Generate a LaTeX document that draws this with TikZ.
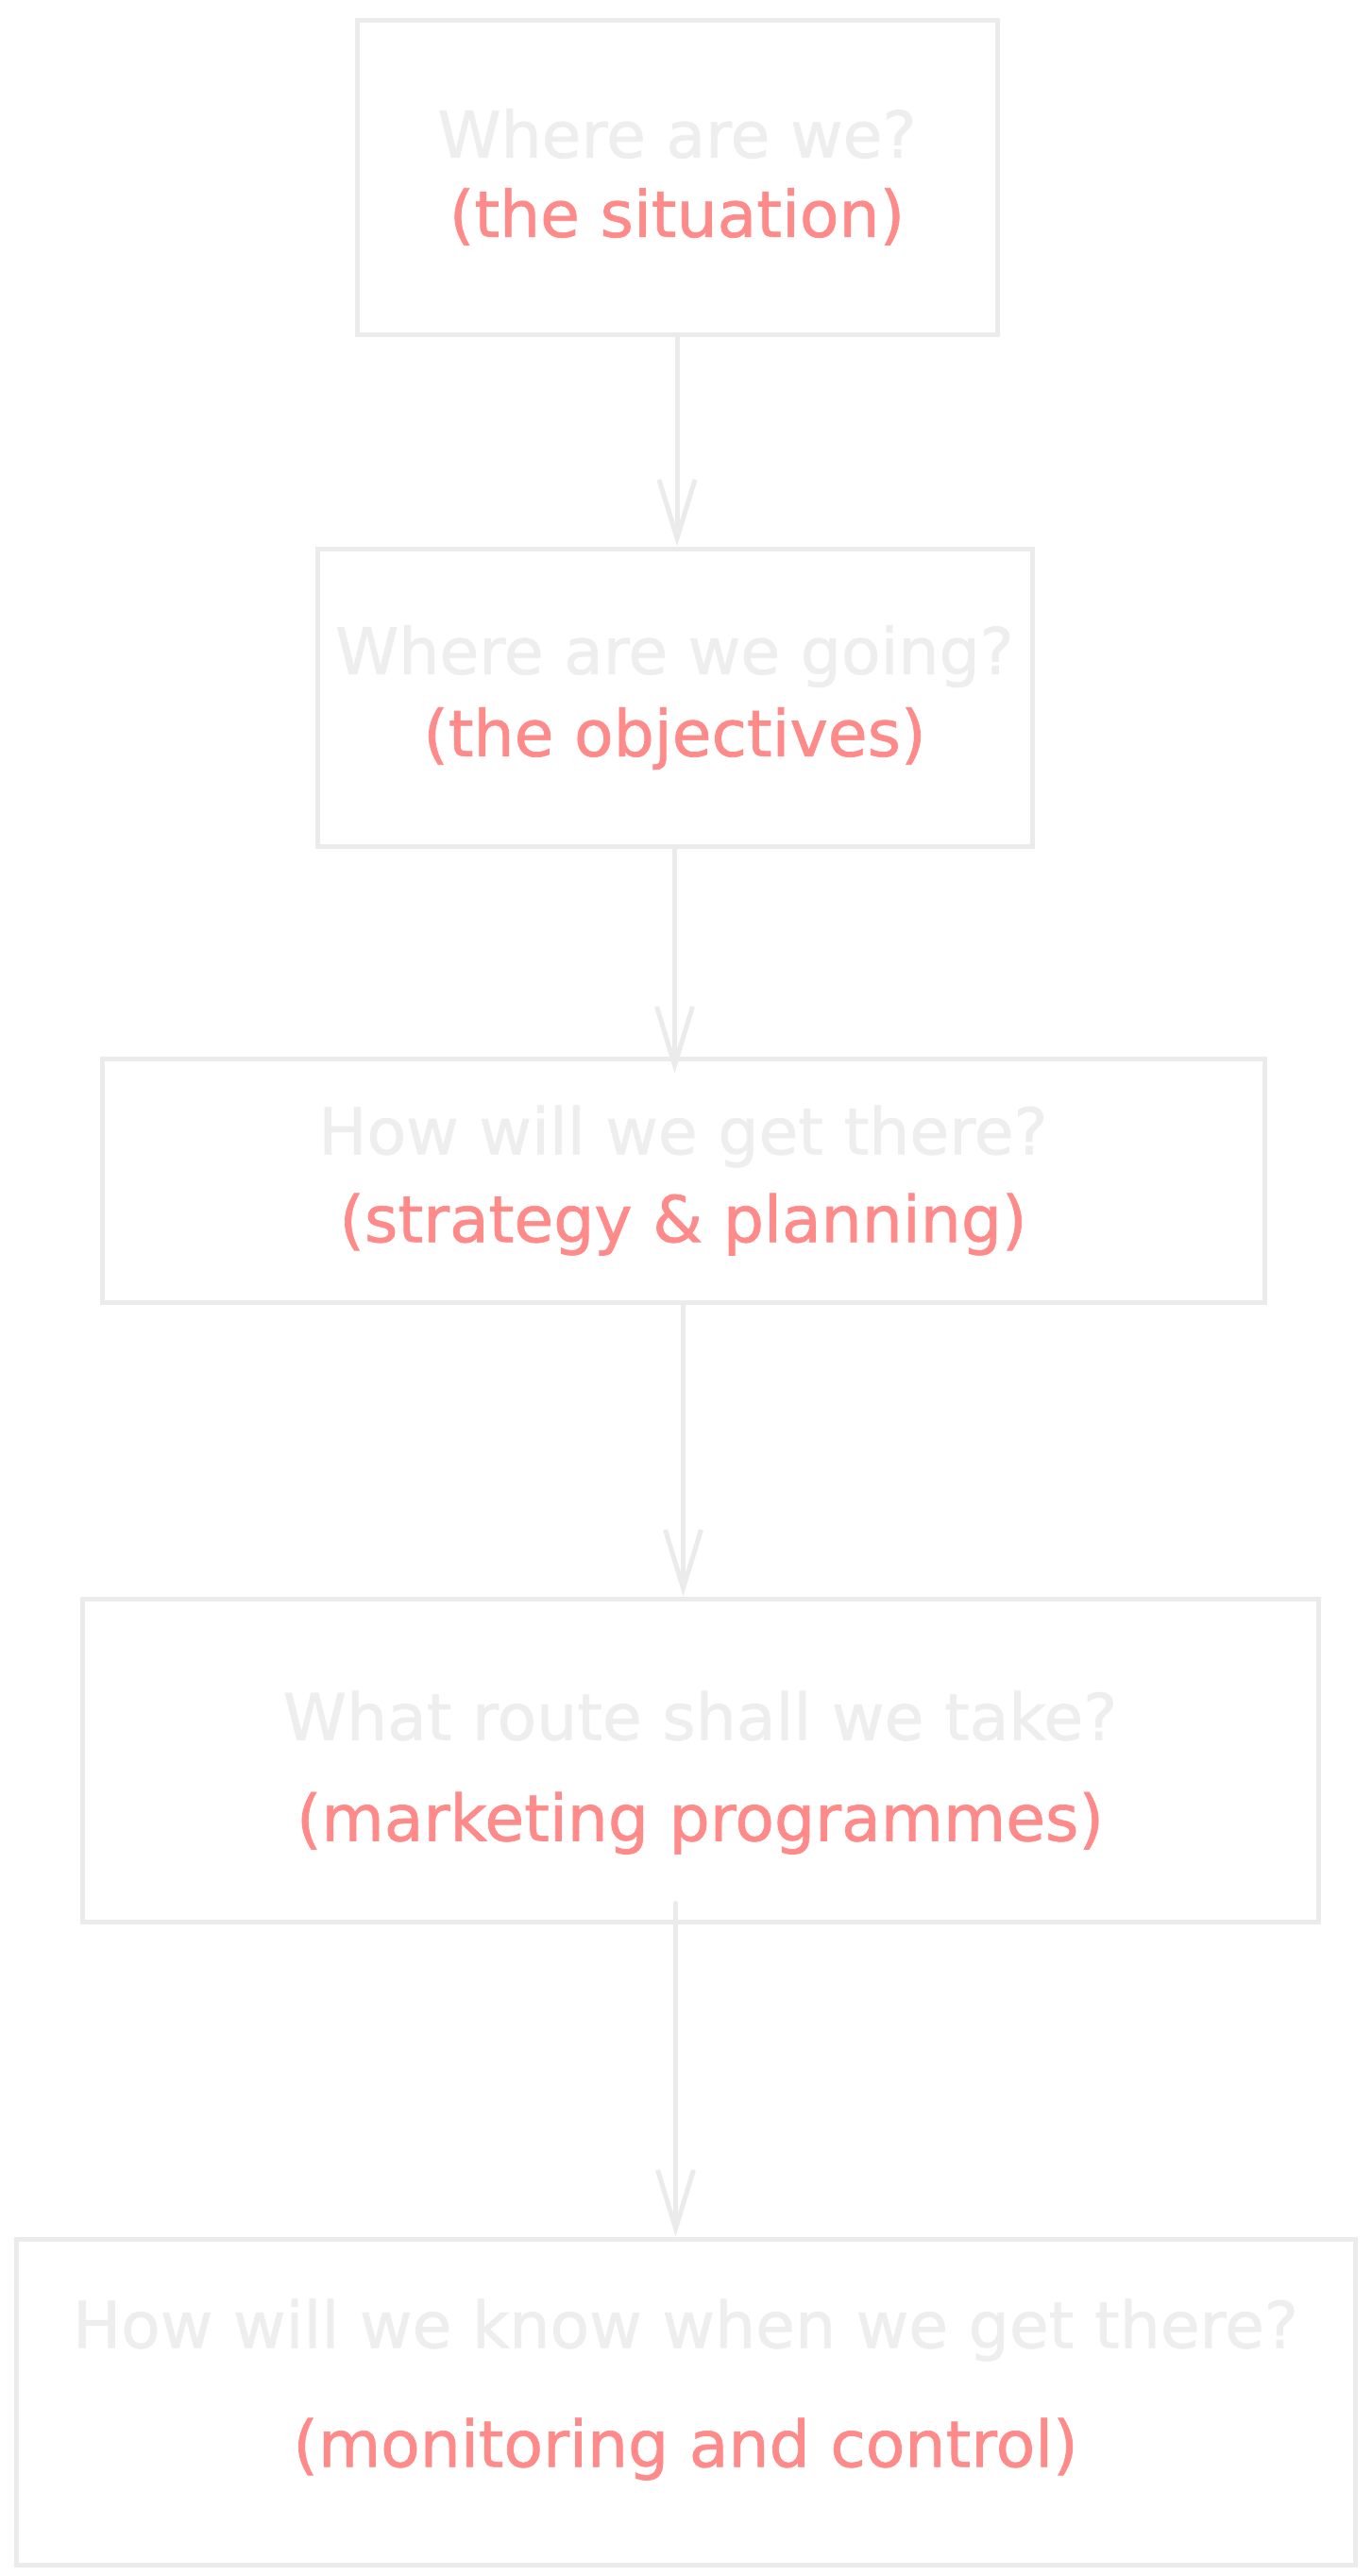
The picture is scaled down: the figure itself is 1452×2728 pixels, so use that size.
\documentclass[tikz,border=0pt]{standalone}
\usepackage{fontspec}
\setmainfont[FakeBold=1]{DejaVu Sans}
\usetikzlibrary{arrows.meta}
\definecolor{sketchgray}{HTML}{EBEBEB}
\definecolor{asktext}{HTML}{EEEEEE}
\definecolor{answertext}{HTML}{FF8A8A}
\tikzset{
        stage/.style={rectangle, draw=sketchgray, line width=5pt, align=center, inner sep=0pt, font=\fontsize{68}{82}\selectfont},
        flow/.style={draw=sketchgray, line width=5pt, line cap=round, -{Straight Barb[length=62pt, width=38pt]}}
          }
\newcommand{\asks}[1]{{\color{asktext}#1}}
\newcommand{\answers}[1]{{\color{answertext}#1}}

\begin{document}
\begin{tikzpicture}[x=1pt, y=-1pt]
        \fill[white] (0,0) rectangle (1452,2728);
        \useasboundingbox (0,0) rectangle (1452,2728);
        % the five planning questions
        \node[stage, minimum width=678pt, minimum height=333pt] (situation) at (717,187.5)
          {\asks{Where are we?}\\[2pt]\answers{(the situation)}};
        \node[stage, minimum width=757pt, minimum height=315pt] (objectives) at (714.5,738.5)
          {\asks{Where are we going?}\\[5pt]\answers{(the objectives)}};
        \node[stage, minimum width=1231pt, minimum height=258pt] (strategy) at (723.5,1250)
          {\asks{How will we get there?}\\[11pt]\answers{(strategy \& planning)}};
        \node[stage, minimum width=1309pt, minimum height=342pt] (programmes) at (741.5,1864)
          {\rule{0pt}{78pt}\asks{What route shall we take?}\\[25pt]\answers{(marketing programmes)}};
        \node[stage, minimum width=1418pt, minimum height=345pt] (control) at (726,2543.5)
          {\asks{How will we know when we get there?}\\[44pt]\answers{(monitoring and control)}\rule[-40pt]{0pt}{0pt}};
        % arrows between the stages
        \coordinate (gap) at ([yshift=-18pt]strategy.north);
        \coordinate (lower) at ([yshift=22pt, xshift=-26pt]programmes.south);
        \draw[flow] (situation.south) -- (situation.south |- objectives.north);
        \draw[flow] (objectives.south) -- (objectives.south |- gap);
        \draw[flow] (strategy.south) -- (strategy.south |- programmes.north);
        \draw[flow] (lower) -- (lower |- control.north);
      \end{tikzpicture}
\end{document}
